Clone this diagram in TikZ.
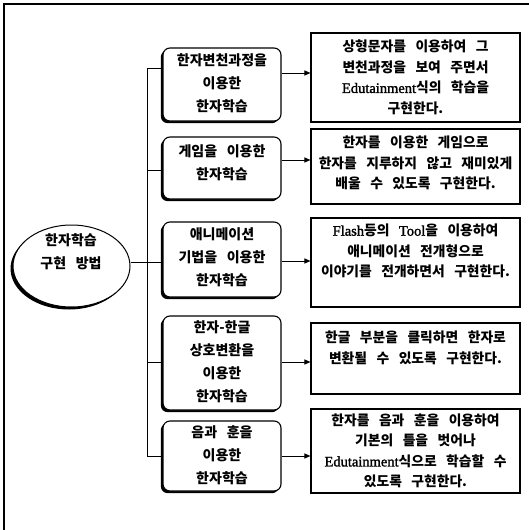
\documentclass[tikz,border=0pt]{standalone}
\usepackage{fontspec}
\usetikzlibrary{arrows.meta,shadows,shapes.geometric}
\newfontfamily\kr[WordSpace=3]{Noto Sans CJK KR}
\newfontfamily\lat[FakeBold=1.5]{Liberation Serif}
\newcommand\latw[1]{{\lat\mdseries\fontsize{14.5}{20.5}\selectfont #1}}
\begin{document}
\begin{tikzpicture}[x=1pt,y=-1pt,
  frame/.style={line width=1.3pt},
  method/.style={draw, line width=1.1pt, rounded corners=7pt, fill=white,
    minimum width=118pt, inner sep=0pt,
    drop shadow={shadow xshift=-2.2pt, shadow yshift=-2.2pt, fill=black, opacity=1}},
  desc/.style={draw, line width=1.1pt, fill=white, minimum width=209pt, inner sep=0pt,
    drop shadow={shadow xshift=1pt, shadow yshift=-1pt, fill=black, opacity=1}},
  root/.style={draw, ellipse, line width=1pt, fill=white, minimum width=117pt,
    minimum height=82pt, inner sep=0pt,
    drop shadow={shadow xshift=-2.5pt, shadow yshift=-2.5pt, fill=black, opacity=1}},
  mtext/.style={align=center, inner sep=0pt, font=\kr\bfseries\fontsize{14}{23}\selectfont},
  dtext/.style={align=center, inner sep=0pt, font=\kr\bfseries\fontsize{13.8}{20.5}\selectfont},
  conn/.style={line width=1pt},
  arr/.style={line width=1pt, -{Triangle[length=6pt,width=5pt]}}
]
\useasboundingbox (0,0) rectangle (529,530);
\draw[frame] (4,530) -- (4,4) -- (529,4);

% root
\node[root] (root) at (71.5,266) {};
\node[mtext] (roott) at (71,252) {한자학습\\구현 방법};

% method boxes
\node[method, minimum height=73pt] (m1) at (222,84.5) {};
\node[method, minimum height=62pt] (m2) at (222,168) {};
\node[method, minimum height=75pt] (m3) at (222,259.5) {};
\node[method, minimum height=94pt] (m4) at (222,363) {};
\node[method, minimum height=70pt] (m5) at (222,456) {};
\node[mtext] (mt1) at (222,83.5) {한자변천과정을\\이용한\\한자학습};
\node[mtext] (mt2) at (222,162.5) {게임을 이용한\\한자학습};
\node[mtext] (mt3) at (222,257) {애니메이션\\기법을 이용한\\한자학습};
\node[mtext] (mt4) at (222,361.5) {한자-한글\\상호변환을\\이용한\\한자학습};
\node[mtext] (mt5) at (222,455) {음과 훈을\\이용한\\한자학습};

% description boxes
\node[desc, minimum height=89pt] (d1) at (415.5,77.5) {};
\node[desc, minimum height=75pt] (d2) at (415.5,166.5) {};
\node[desc, minimum height=89pt] (d3) at (415.5,262.5) {};
\node[desc, minimum height=71pt] (d4) at (415.5,358.5) {};
\node[desc, minimum height=84pt] (d5) at (415.5,451) {};
\node[dtext] (dt1) at (415.5,77.5) {상형문자를 이용하여 그\\변천과정을 보여 주면서\\\latw{Edutainment}식의 학습을\\구현한다.};
\node[dtext] (dt2) at (415.5,163) {한자를 이용한 게임으로\\한자를 지루하지 않고 재미있게\\배울 수 있도록 구현한다.};
\node[dtext] (dt3) at (415.5,251) {\latw{Flash}등의 \latw{Tool}을 이용하여\\애니메이션 전개형으로\\이야기를 전개하면서 구현한다.};
\node[dtext] (dt4) at (415.5,348) {한글 부분을 클릭하면 한자로\\변환될 수 있도록 구현한다.};
\node[dtext] (dt5) at (415.5,451) {한자를 음과 훈을 이용하여\\기본의 틀을 벗어나\\\latw{Edutainment}식으로 학습할 수\\있도록 구현한다.};

% trunk
\coordinate (ttop) at (147,68);
\coordinate (tbot) at (147,456);
\draw[conn] ([yshift=16.5pt]m1.west) -- (ttop) -- (tbot) -- (m5.west);
\draw[conn] (ttop |- m2.west) ++(0,2) -- ([yshift=-2pt]m2.west);
\draw[conn] ([yshift=4pt]root.east) -- ([yshift=4pt]root.east -| m3.west);
\draw[conn] ([yshift=1pt]m4.west -| ttop) -- ([yshift=1pt]m4.west);

% arrows
\draw[arr] ([yshift=11.5pt]m1.east) -- ([yshift=11.5pt]m1.east -| d1.west);
\draw[arr] ([yshift=8pt]m2.east) -- ([yshift=8pt]m2.east -| d2.west);
\draw[arr] ([yshift=-1.5pt]m3.east) -- ([yshift=-1.5pt]m3.east -| d3.west);
\draw[arr] ([yshift=1pt]m4.east) -- ([yshift=1pt]m4.east -| d4.west);
\draw[arr] (m5.east) -- (m5.east -| d5.west);
\end{tikzpicture}
\end{document}
